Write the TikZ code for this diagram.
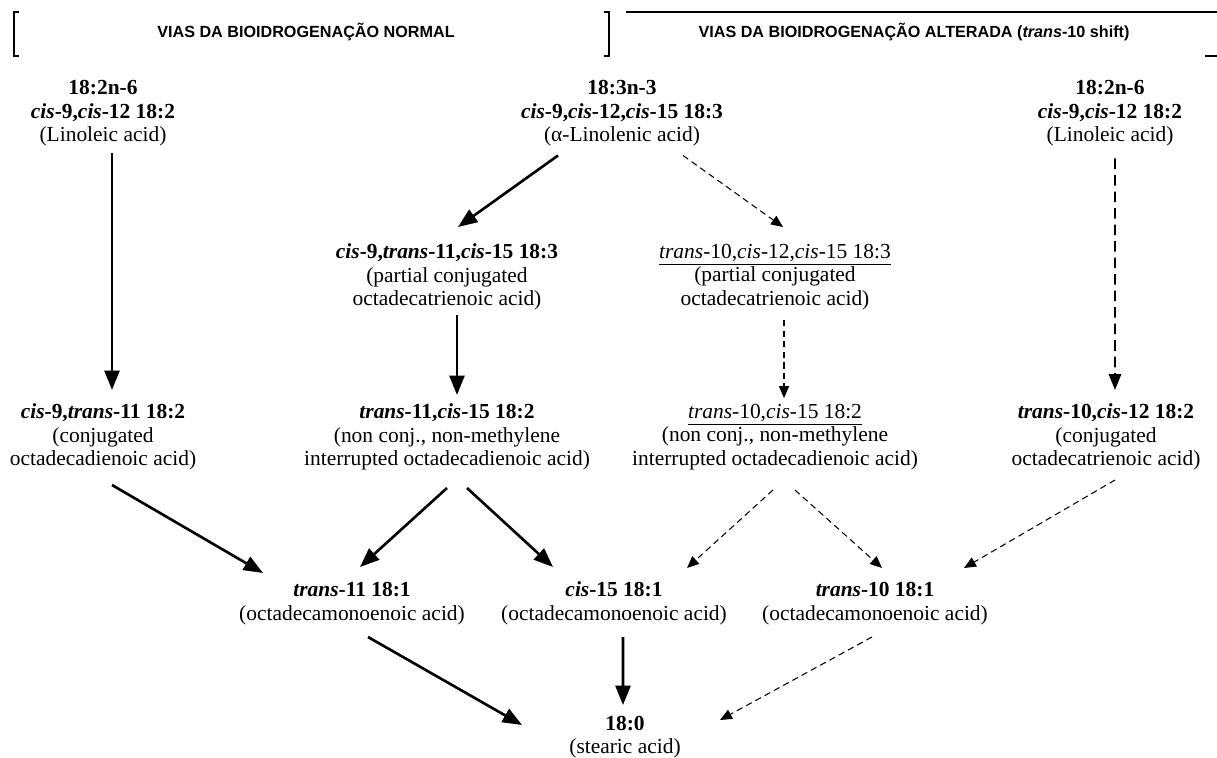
\documentclass[tikz,border=0pt]{standalone}
\usepackage{fontspec}
\setmainfont{Liberation Serif}
\newfontfamily\hdrfont{Liberation Sans}
\usetikzlibrary{arrows.meta,calc}

\begin{document}
\begin{tikzpicture}[line cap=butt,
  every node/.style={font=\fontsize{12.2}{13.3}\selectfont,
  align=center,inner sep=0pt},
  hdr/.style={font=\hdrfont\bfseries\fontsize{9.2}{11}\selectfont},
  conv/.style={line width=1.5pt,-{Triangle[length=11pt,width=8.5pt]}},
  shft/.style={line width=.6pt,dash pattern=on 3.6pt off 2.4pt,
  -{Triangle[length=6.8pt,width=5.8pt]}},
  shftlong/.style={line width=1.1pt,dash pattern=on 6pt off 3.4pt,
  -{Triangle[length=9pt,width=7pt]}}]
 \useasboundingbox (0,0) rectangle (24.34,-15.16);
 % headers
 \node[hdr] (hnorm) at (6.12,-.64) {VIAS DA BIOIDROGENAÇÃO NORMAL};
 \node[hdr] (halt) at (18.28,-.64)
  {VIAS DA BIOIDROGENAÇÃO ALTERADA (\textit{trans}-10 shift)};
 \draw[line width=.6pt] (.38,-.24) -- (.28,-.24) -- (.28,-1.12) -- (.38,-1.12);
 \draw[line width=.6pt] (12.08,-.24) -- (12.18,-.24) -- (12.18,-1.12)
  -- (12.08,-1.12);
 \draw[line width=.6pt] (12.52,-.24) -- (24.34,-.24);
 \draw[line width=.6pt] (24.10,-1.12) -- (24.34,-1.12);
 % precursors
 \node (lin1) at (2.06,-2.27) {\textbf{18:2n-6}\\
  \textbf{\textit{cis}-9,\textit{cis}-12 18:2}\\(Linoleic acid)};
 \node (ala) at (12.44,-2.27) {\textbf{18:3n-3}\\
  \textbf{\textit{cis}-9,\textit{cis}-12,\textit{cis}-15 18:3}\\
  (α-Linolenic acid)};
 \node (lin2) at (22.20,-2.27) {\textbf{18:2n-6}\\
  \textbf{\textit{cis}-9,\textit{cis}-12 18:2}\\(Linoleic acid)};
 % 18:3 intermediates
 \node (ct) at (8.94,-5.54)
  {\textbf{\textit{cis}-9,\textit{trans}-11,\textit{cis}-15 18:3}\\
  (partial conjugated\\octadecatrienoic acid)};
 \node (tcc) at (15.50,-5.54)
  {\underline{\textit{trans}-10,\textit{cis}-12,\textit{cis}-15 18:3}\\
  (partial conjugated\\octadecatrienoic acid)};
 % 18:2 intermediates
 \node (cla) at (2.06,-8.74) {\textbf{\textit{cis}-9,\textit{trans}-11 18:2}\\
  (conjugated\\octadecadienoic acid)};
 \node (tc15) at (8.94,-8.74) {\textbf{\textit{trans}-11,\textit{cis}-15 18:2}\\
  (non conj., non-methylene\\interrupted octadecadienoic acid)};
 \node (t10c15) at (15.50,-8.74) {\underline{\textit{trans}-10,\textit{cis}-15 18:2}\\
  (non conj., non-methylene\\interrupted octadecadienoic acid)};
 \node (t10c12) at (22.12,-8.74) {\textbf{\textit{trans}-10,\textit{cis}-12 18:2}\\
  (conjugated\\octadecatrienoic acid)};
 % 18:1 and 18:0
 \node (t11) at (7.04,-12.07) {\textbf{\textit{trans}-11 18:1}\\
  (octadecamonoenoic acid)};
 \node (c15) at (12.28,-12.07) {\textbf{\textit{cis}-15 18:1}\\
  (octadecamonoenoic acid)};
 \node (t10) at (17.50,-12.07) {\textbf{\textit{trans}-10 18:1}\\
  (octadecamonoenoic acid)};
 \node (sa) at (12.50,-14.74) {\textbf{18:0}\\(stearic acid)};
 % normal pathway
 \draw[conv] ($(lin1)+(.18,-.80)$) -- ($(cla)+(.18,.94)$);
 \draw[conv] ($(ala)+(-1.28,-.84)$) -- ($(ct)+(.22,1.00)$);
 \draw[conv] ($(ct)+(.20,-.76)$) -- ($(tc15)+(.20,.84)$);
 \draw[conv] ($(cla)+(.18,-.96)$) -- ($(t11)+(-1.78,.61)$);
 \draw[conv] ($(tc15)+(0,-1.02)$) -- ($(t11)+(.16,.73)$);
 \draw[conv] ($(tc15)+(.40,-1.02)$) -- ($(c15)+(-1.22,.73)$);
 \draw[conv] ($(t11)+(.32,-.67)$) -- ($(sa)+(-2.06,.24)$);
 \draw[conv] ($(c15)+(.18,-.67)$) -- ($(sa)+(-.04,.64)$);
 % trans-10 shift
 \draw[shft] ($(ala)+(1.22,-.84)$) -- ($(tcc)+(.16,1.00)$);
 \draw[shftlong] ($(lin2)+(.10,-.90)$) -- ($(t10c12)+(.18,.94)$);
 \draw[shft] ($(tcc)+(.18,-.86)$) -- ($(t10c15)+(.18,.78)$);
 \draw[shft] ($(t10c15)+(-.04,-1.06)$) -- ($(c15)+(1.46,.71)$);
 \draw[shft] ($(t10c15)+(.40,-1.06)$) -- ($(t10)+(.14,.71)$);
 \draw[shft] ($(t10c12)+(.18,-.86)$) -- ($(t10)+(1.78,.71)$);
 \draw[shft] ($(t10)+(-.06,-.67)$) -- ($(sa)+(1.90,.34)$);
\end{tikzpicture}
\end{document}
